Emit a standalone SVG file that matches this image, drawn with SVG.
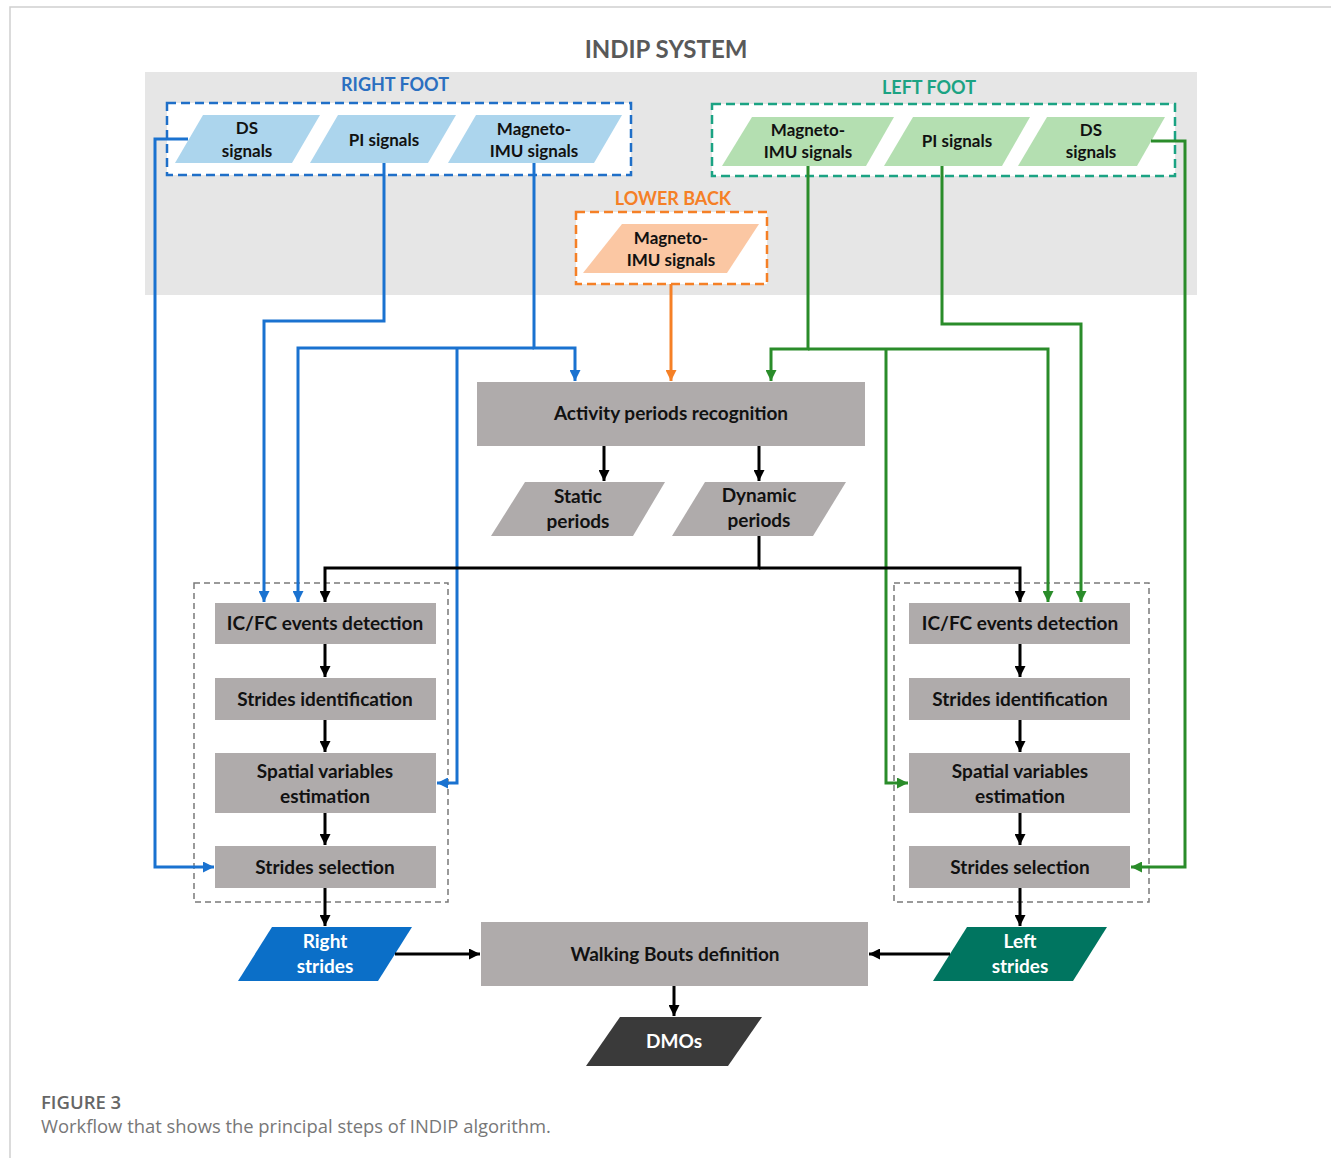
<svg xmlns="http://www.w3.org/2000/svg" width="1331" height="1158" viewBox="0 0 1331 1158">
<style>
.lbl{font-family:Lato,"Open Sans","Liberation Sans",sans-serif;font-weight:700;fill:#111;text-anchor:middle}
.sec{font-family:Lato,"Open Sans","Liberation Sans",sans-serif;font-weight:700;text-anchor:middle;font-size:18px}
.box{fill:#afabab}
.b{fill:none;stroke:#1a72d0;stroke-width:3}
.g{fill:none;stroke:#2a8c2a;stroke-width:3}
.o{fill:none;stroke:#f58026;stroke-width:3}
.k{fill:none;stroke:#000;stroke-width:3}
.grp{fill:none;stroke:#7a7a7a;stroke-width:1.5;stroke-dasharray:6 4}
</style>
<defs>
<marker id="ab" viewBox="0 0 10 10" refX="10" refY="5" markerWidth="11" markerHeight="11" markerUnits="userSpaceOnUse" orient="auto"><path d="M0,0 L10,5 L0,10 z" fill="#1a72d0"/></marker>
<marker id="ag" viewBox="0 0 10 10" refX="10" refY="5" markerWidth="11" markerHeight="11" markerUnits="userSpaceOnUse" orient="auto"><path d="M0,0 L10,5 L0,10 z" fill="#2a8c2a"/></marker>
<marker id="ao" viewBox="0 0 10 10" refX="10" refY="5" markerWidth="11" markerHeight="11" markerUnits="userSpaceOnUse" orient="auto"><path d="M0,0 L10,5 L0,10 z" fill="#f58026"/></marker>
<marker id="ak" viewBox="0 0 10 10" refX="10" refY="5" markerWidth="11" markerHeight="11" markerUnits="userSpaceOnUse" orient="auto"><path d="M0,0 L10,5 L0,10 z" fill="#000"/></marker>
</defs>
<rect x="0" y="0" width="1331" height="1158" fill="#fff"/>
<path d="M10,1158 V7 H1331" fill="none" stroke="#d0d0d0" stroke-width="1.5"/>
<text x="666" y="58" font-family="Lato,'Open Sans','Liberation Sans',sans-serif" font-weight="700" font-size="24" fill="#595959" text-anchor="middle">INDIP SYSTEM</text>
<rect x="145" y="72" width="1052" height="223" fill="#e6e6e6"/>

<g id="right-foot">
<rect x="167" y="103" width="464" height="72" fill="#fff" stroke="#1f6fc8" stroke-width="2.5" stroke-dasharray="9 5"/>
<text class="sec" x="395" y="91" fill="#2b6fc0">RIGHT FOOT</text>
<g id="r-ds"><polygon points="203,115 320,115 292,163 175,163" fill="#acd5ed"/><text class="lbl" font-size="17" x="247" y="134">DS</text><text class="lbl" font-size="17" x="247" y="157">signals</text></g>
<g id="r-pi"><polygon points="338,115 456,115 428,163 310,163" fill="#acd5ed"/><text class="lbl" font-size="17" x="384" y="146">PI signals</text></g>
<g id="r-imu"><polygon points="476,115 622,115 594,163 448,163" fill="#acd5ed"/><text class="lbl" font-size="17" x="534" y="135">Magneto-</text><text class="lbl" font-size="17" x="534" y="157">IMU signals</text></g>
</g>

<g id="left-foot">
<rect x="712" y="104" width="463" height="72" fill="#fff" stroke="#1ba383" stroke-width="2.5" stroke-dasharray="9 5"/>
<text class="sec" x="929" y="94" fill="#1ba383">LEFT FOOT</text>
<g id="l-imu"><polygon points="752,117 894,117 866,166 722,166" fill="#b4dfb1"/><text class="lbl" font-size="17" x="808" y="136">Magneto-</text><text class="lbl" font-size="17" x="808" y="158">IMU signals</text></g>
<g id="l-pi"><polygon points="913,117 1030,117 1002,166 884,166" fill="#b4dfb1"/><text class="lbl" font-size="17" x="957" y="147">PI signals</text></g>
<g id="l-ds"><polygon points="1047,117 1165,117 1137,166 1018,166" fill="#b4dfb1"/><text class="lbl" font-size="17" x="1091" y="136">DS</text><text class="lbl" font-size="17" x="1091" y="158">signals</text></g>
</g>

<g id="lower-back">
<rect x="576" y="212" width="191" height="72" fill="#fff" stroke="#f58026" stroke-width="2.5" stroke-dasharray="9 5"/>
<text class="sec" x="673" y="205" fill="#f58026">LOWER BACK</text>
<g id="lb-imu"><polygon points="622,224 759,224 727,273 583,273" fill="#fbc7a3"/><text class="lbl" font-size="17" x="671" y="244">Magneto-</text><text class="lbl" font-size="17" x="671" y="266">IMU signals</text></g>
</g>

<g id="activity"><rect class="box" x="477" y="382" width="388" height="64"/><text class="lbl" font-size="19" x="671" y="420">Activity periods recognition</text></g>
<g id="static"><polygon class="box" points="525,482 665,482 633,536 491,536"/><text class="lbl" font-size="19" x="578" y="503">Static</text><text class="lbl" font-size="19" x="578" y="528">periods</text></g>
<g id="dynamic"><polygon class="box" points="705,482 846,482 813,536 672,536"/><text class="lbl" font-size="19" x="759" y="502">Dynamic</text><text class="lbl" font-size="19" x="759" y="527">periods</text></g>

<g id="right-group">
<rect class="grp" x="194" y="583" width="254" height="319"/>
<g id="r-icfc"><rect class="box" x="215" y="603" width="221" height="41"/><text class="lbl" font-size="19" x="325" y="630">IC/FC events detection</text></g>
<g id="r-strides-id"><rect class="box" x="215" y="678" width="221" height="42"/><text class="lbl" font-size="19" x="325" y="706">Strides identification</text></g>
<g id="r-spatial"><rect class="box" x="215" y="753" width="221" height="60"/><text class="lbl" font-size="19" x="325" y="778">Spatial variables</text><text class="lbl" font-size="19" x="325" y="803">estimation</text></g>
<g id="r-sel"><rect class="box" x="215" y="846" width="221" height="42"/><text class="lbl" font-size="19" x="325" y="874">Strides selection</text></g>
</g>

<g id="left-group">
<rect class="grp" x="894" y="583" width="255" height="319"/>
<g id="l-icfc"><rect class="box" x="909" y="603" width="221" height="41"/><text class="lbl" font-size="19" x="1020" y="630">IC/FC events detection</text></g>
<g id="l-strides-id"><rect class="box" x="909" y="678" width="221" height="42"/><text class="lbl" font-size="19" x="1020" y="706">Strides identification</text></g>
<g id="l-spatial"><rect class="box" x="909" y="753" width="221" height="60"/><text class="lbl" font-size="19" x="1020" y="778">Spatial variables</text><text class="lbl" font-size="19" x="1020" y="803">estimation</text></g>
<g id="l-sel"><rect class="box" x="909" y="846" width="221" height="42"/><text class="lbl" font-size="19" x="1020" y="874">Strides selection</text></g>
</g>

<g id="right-strides"><polygon points="272,927 412,927 378,981 238,981" fill="#0b6fc8"/><text class="lbl" font-size="19" style="fill:#fff" x="325" y="948">Right</text><text class="lbl" font-size="19" style="fill:#fff" x="325" y="973">strides</text></g>
<g id="walking"><rect class="box" x="481" y="922" width="387" height="64"/><text class="lbl" font-size="19" x="675" y="961">Walking Bouts definition</text></g>
<g id="left-strides"><polygon points="967,927 1107,927 1073,981 933,981" fill="#007560"/><text class="lbl" font-size="19" style="fill:#fff" x="1020" y="948">Left</text><text class="lbl" font-size="19" style="fill:#fff" x="1020" y="973">strides</text></g>
<g id="dmos"><polygon points="620,1017 762,1017 728,1066 586,1066" fill="#3a3a3a"/><text class="lbl" font-size="19" style="fill:#fff" x="674" y="1048">DMOs</text></g>

<g id="connectors">
<path class="b" d="M188,139 H155 V867 H214" marker-end="url(#ab)"/>
<path class="b" d="M384,163 V321 H264 V602" marker-end="url(#ab)"/>
<path class="b" d="M534,163 V348 H575 V381" marker-end="url(#ab)"/>
<path class="b" d="M534,348 H298 V602" marker-end="url(#ab)"/>
<path class="b" d="M457,348 V783 H437" marker-end="url(#ab)"/>
<path class="o" d="M671,284 V381" marker-end="url(#ao)"/>
<path class="g" d="M808,166 V349 H771 V381" marker-end="url(#ag)"/>
<path class="g" d="M808,349 H1048 V602" marker-end="url(#ag)"/>
<path class="g" d="M886,349 V783 H908" marker-end="url(#ag)"/>
<path class="g" d="M942,166 V324 H1081 V602" marker-end="url(#ag)"/>
<path class="g" d="M1151,141 H1185 V867 H1131" marker-end="url(#ag)"/>
<path class="k" d="M604,446 V481" marker-end="url(#ak)"/>
<path class="k" d="M759,446 V481" marker-end="url(#ak)"/>
<path class="k" d="M759,536 V568 H325 V602" marker-end="url(#ak)"/>
<path class="k" d="M759,568 H1020 V602" marker-end="url(#ak)"/>
<path class="k" d="M325,644 V677" marker-end="url(#ak)"/>
<path class="k" d="M325,720 V752" marker-end="url(#ak)"/>
<path class="k" d="M325,813 V845" marker-end="url(#ak)"/>
<path class="k" d="M325,888 V926" marker-end="url(#ak)"/>
<path class="k" d="M1020,644 V677" marker-end="url(#ak)"/>
<path class="k" d="M1020,720 V752" marker-end="url(#ak)"/>
<path class="k" d="M1020,813 V845" marker-end="url(#ak)"/>
<path class="k" d="M1020,888 V926" marker-end="url(#ak)"/>
<path class="k" d="M395,954 H480" marker-end="url(#ak)"/>
<path class="k" d="M950,954 H869" marker-end="url(#ak)"/>
<path class="k" d="M674,986 V1016" marker-end="url(#ak)"/>
</g>

<text x="41" y="1109" font-family="'Open Sans','Liberation Sans',sans-serif" font-weight="600" font-size="18.5" fill="#666">FIGURE 3</text>
<text x="41" y="1133" font-family="'Open Sans','Liberation Sans',sans-serif" font-size="18.4" fill="#777">Workflow that shows the principal steps of INDIP algorithm.</text>
</svg>
